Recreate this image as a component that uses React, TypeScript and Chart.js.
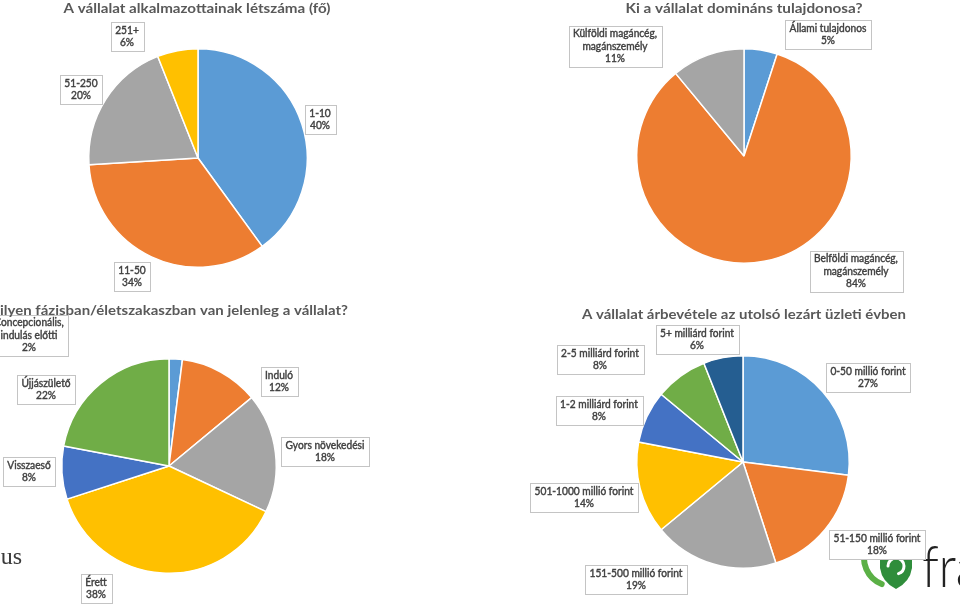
import React, { useEffect, useRef } from "react";
import { Chart, registerables } from "chart.js";

Chart.register(...registerables);

// ---------- DATA ----------
const staffTitle = "A vállalat alkalmazottainak létszáma (fő)";
const staffCategories = ["1-10", "11-50", "51-250", "251+"];
const staffValues = [40, 34, 20, 6];

const ownerTitle = "Ki a vállalat domináns tulajdonosa?";
const ownerCategories = [
  "Állami tulajdonos",
  "Belföldi magáncég, magánszemély",
  "Külföldi magáncég, magánszemély",
];
const ownerValues = [5, 84, 11];

const phaseTitle = "Milyen fázisban/életszakaszban van jelenleg a vállalat?";
const phaseCategories = [
  "Concepcionális, indulás előtti",
  "Induló",
  "Gyors növekedési",
  "Érett",
  "Visszaeső",
  "Újjászülető",
];
const phaseValues = [2, 12, 18, 38, 8, 22];

const revenueTitle = "A vállalat árbevétele az utolsó lezárt üzleti évben";
const revenueCategories = [
  "0-50 millió forint",
  "51-150 millió forint",
  "151-500 millió forint",
  "501-1000 millió forint",
  "1-2 milliárd forint",
  "2-5 milliárd forint",
  "5+ milliárd forint",
];
const revenueValues = [27, 18, 19, 14, 8, 8, 6];

// ---------- STYLE / LAYOUT ----------
const W = 960;
const H = 604;
const BLUE = "#5B9BD5";
const ORANGE = "#ED7D31";
const GRAY = "#A5A5A5";
const YELLOW = "#FFC000";
const BLUE2 = "#4472C4";
const GREEN = "#70AD47";
const NAVY = "#255E91";

const TITLE_FONT = "bold 14px Lato, 'Open Sans', sans-serif";
const LABEL_FONT = "10.5px Lato, 'Open Sans', sans-serif";
const LABEL_SX = 0.97;
const LINE_H = 12.4;

type Spec = {
  title: string;
  titleX: number;
  titleY: number;
  titleAlign: CanvasTextAlign;
  titleWidth: number;
  titleSkip?: number;
  categories: string[];
  values: number[];
  colors: string[];
  cx: number;
  cy: number;
  r: number;
  labelPos: [number, number][];
  under?: (ctx: CanvasRenderingContext2D) => void;
};

function splitLabel(s: string): string[] {
  const i = s.indexOf(", ");
  if (i < 0) return [s];
  return [s.slice(0, i + 1), s.slice(i + 2)];
}

function drawLabelBox(ctx: CanvasRenderingContext2D, lines: string[], cx: number, cy: number) {
  ctx.save();
  ctx.font = LABEL_FONT;
  const tw = Math.max(...lines.map((l) => ctx.measureText(l).width)) * LABEL_SX;
  const w = Math.round(tw + 9);
  const h = Math.round(lines.length * LINE_H + 4);
  const x0 = Math.round(cx - w / 2);
  const y0 = Math.round(cy - h / 2);
  ctx.fillStyle = "#ffffff";
  ctx.fillRect(x0, y0, w, h);
  ctx.strokeStyle = "#c4c4c4";
  ctx.lineWidth = 1;
  ctx.strokeRect(x0 + 0.5, y0 + 0.5, w, h);
  ctx.fillStyle = "#404040";
  ctx.strokeStyle = "#404040";
  ctx.lineWidth = 0.4;
  ctx.textAlign = "center";
  ctx.textBaseline = "middle";
  lines.forEach((l, i) => {
    ctx.save();
    ctx.translate(cx, cy + 0.5 + (i - (lines.length - 1) / 2) * LINE_H);
    ctx.scale(LABEL_SX, 1);
    ctx.fillText(l, 0, 0);
    ctx.strokeText(l, 0, 0);
    ctx.restore();
  });
  ctx.restore();
}

function drawTitle(ctx: CanvasRenderingContext2D, s: Spec) {
  ctx.save();
  ctx.font = TITLE_FONT;
  const mw = ctx.measureText(s.title.slice(s.titleSkip || 0)).width;
  const k = s.titleWidth / mw;
  ctx.fillStyle = "#595959";
  ctx.textBaseline = "alphabetic";
  ctx.textAlign = s.titleAlign;
  ctx.translate(s.titleX, s.titleY);
  ctx.scale(k, 1);
  ctx.fillText(s.title, 0, 0);
  ctx.restore();
}

function drawUs(ctx: CanvasRenderingContext2D) {
  ctx.save();
  ctx.font = "24px 'Liberation Serif', serif";
  ctx.fillStyle = "#3a3a3a";
  ctx.textAlign = "right";
  ctx.textBaseline = "alphabetic";
  ctx.fillText("us", 22, 564);
  ctx.restore();
}

function drawLogo(ctx: CanvasRenderingContext2D) {
  ctx.save();
  // green crescent
  ctx.strokeStyle = "#5bb046";
  ctx.lineWidth = 6;
  ctx.lineCap = "round";
  ctx.beginPath();
  ctx.arc(892, 558, 28, Math.PI * 0.62, Math.PI * 1.25);
  ctx.stroke();
  // shield
  ctx.fillStyle = "#2f8d3b";
  ctx.beginPath();
  ctx.moveTo(880, 545);
  ctx.lineTo(912, 545);
  ctx.lineTo(912, 568);
  ctx.quadraticCurveTo(910, 582, 896, 589);
  ctx.quadraticCurveTo(882, 582, 880, 568);
  ctx.closePath();
  ctx.fill();
  ctx.strokeStyle = "#ffffff";
  ctx.lineWidth = 3;
  ctx.beginPath();
  ctx.arc(896, 566, 8, Math.PI * 1.0, Math.PI * 2.4);
  ctx.stroke();
  // text
  ctx.font = "300 58px Lato, 'Open Sans', sans-serif";
  ctx.fillStyle = "#222222";
  ctx.textAlign = "left";
  ctx.textBaseline = "alphabetic";
  ctx.save();
  ctx.translate(922, 587);
  ctx.scale(0.85, 1);
  ctx.fillText("fra", 0, 0);
  ctx.restore();
  ctx.restore();
}

const specs: Spec[] = [
  {
    title: staffTitle,
    titleX: 197,
    titleY: 12.7,
    titleAlign: "center",
    titleWidth: 267,
    categories: staffCategories,
    values: staffValues,
    colors: [BLUE, ORANGE, GRAY, YELLOW],
    cx: 198,
    cy: 158,
    r: 110,
    labelPos: [
      [320, 119],
      [132, 276],
      [81, 89],
      [127, 36],
    ],
  },
  {
    title: ownerTitle,
    titleX: 744,
    titleY: 12.5,
    titleAlign: "center",
    titleWidth: 237,
    categories: ownerCategories,
    values: ownerValues,
    colors: [BLUE, ORANGE, GRAY],
    cx: 744,
    cy: 156,
    r: 108,
    labelPos: [
      [828, 34],
      [856, 271],
      [615, 46],
    ],
  },
  {
    title: phaseTitle,
    titleX: 348,
    titleY: 314.5,
    titleAlign: "right",
    titleWidth: 348,
    titleSkip: 1,
    categories: phaseCategories,
    values: phaseValues,
    colors: [BLUE, ORANGE, GRAY, YELLOW, BLUE2, GREEN],
    cx: 169,
    cy: 466,
    r: 108,
    labelPos: [
      [29, 335],
      [279, 381],
      [325, 451],
      [96, 588],
      [29, 471],
      [46, 389],
    ],
    under: drawUs,
  },
  {
    title: revenueTitle,
    titleX: 744,
    titleY: 319,
    titleAlign: "center",
    titleWidth: 324,
    categories: revenueCategories,
    values: revenueValues,
    colors: [BLUE, ORANGE, GRAY, YELLOW, BLUE2, GREEN, NAVY],
    cx: 743,
    cy: 462,
    r: 107,
    labelPos: [
      [868, 377],
      [877, 544],
      [636, 579],
      [584, 497],
      [599, 410],
      [600, 359],
      [697, 339],
    ],
    under: drawLogo,
  },
];

function makeChart(canvas: HTMLCanvasElement, s: Spec) {
  const total = s.values.reduce((a, b) => a + b, 0);
  return new Chart(canvas, {
    type: "pie",
    data: {
      labels: s.categories,
      datasets: [
        {
          data: s.values,
          backgroundColor: s.colors,
          borderColor: "#ffffff",
          borderWidth: 1.5,
          hoverOffset: 0,
          offset: 0,
        },
      ],
    },
    options: {
      responsive: false,
      animation: false,
      events: [],
      layout: {
        padding: {
          left: s.cx - s.r,
          top: s.cy - s.r,
          right: W - (s.cx + s.r),
          bottom: H - (s.cy + s.r),
        },
      },
      plugins: {
        legend: { display: false },
        tooltip: { enabled: false },
        title: { display: false },
      },
    },
    plugins: [
      {
        id: "deco",
        beforeDraw: (chart: any) => {
          if (s.under) s.under(chart.ctx);
        },
        afterDraw: (chart: any) => {
          const ctx = chart.ctx as CanvasRenderingContext2D;
          s.categories.forEach((c, i) => {
            const pct = Math.round((s.values[i] / total) * 100) + "%";
            const [x, y] = s.labelPos[i];
            drawLabelBox(ctx, [...splitLabel(c), pct], x, y);
          });
          drawTitle(ctx, s);
        },
      },
    ],
  } as any);
}

export default function App() {
  const refs = [
    useRef<HTMLCanvasElement>(null),
    useRef<HTMLCanvasElement>(null),
    useRef<HTMLCanvasElement>(null),
    useRef<HTMLCanvasElement>(null),
  ];
  useEffect(() => {
    const charts = specs.map((s, i) => makeChart(refs[i].current as HTMLCanvasElement, s));
    return () => charts.forEach((c) => c.destroy());
  }, []);
  return (
    <div
      style={{
        position: "fixed",
        left: 0,
        top: 0,
        width: W,
        height: H,
        background: "#ffffff",
        overflow: "hidden",
      }}
    >
      {refs.map((r, i) => (
        <canvas
          key={i}
          ref={r}
          width={W}
          height={H}
          style={{ position: "absolute", left: 0, top: 0, width: W, height: H }}
        />
      ))}
    </div>
  );
}
